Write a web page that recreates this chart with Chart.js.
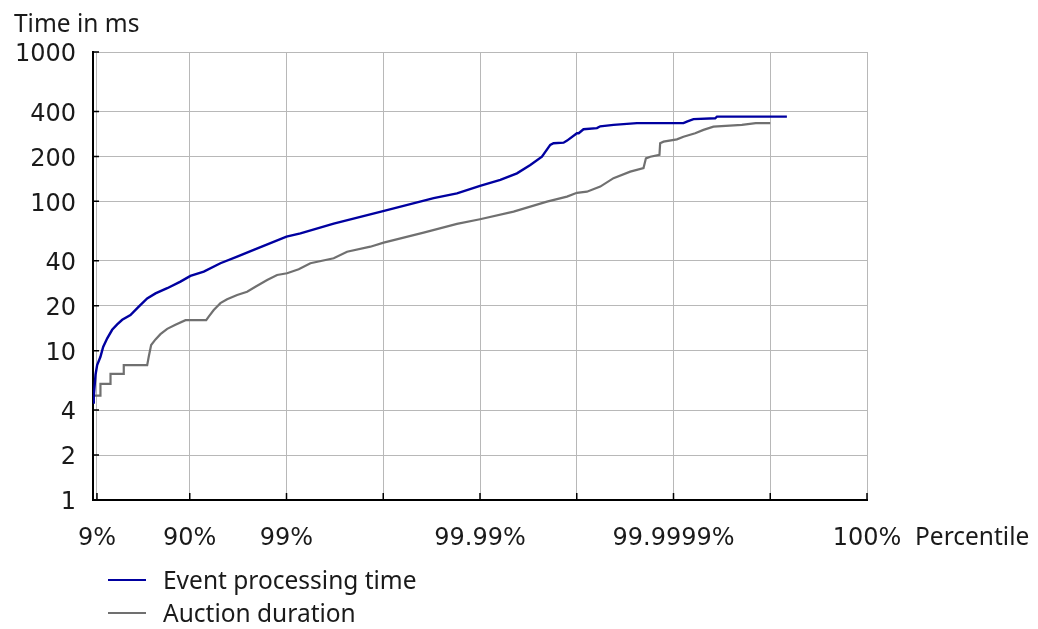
<!DOCTYPE html>
<html>
<head>
<meta charset="utf-8">
<title>Percentile chart</title>
<script src="https://cdn.jsdelivr.net/npm/chart.js@4.4.1/dist/chart.umd.min.js"></script>
<style>
  html, body { margin: 0; padding: 0; background: #fff; }
  #wrap { position: relative; width: 1038px; height: 629px; font-family: 'Noto Sans', sans-serif; color: #1a1a1a; }
  #chart { position: absolute; left: 0; top: 0; }
  .xtitle { position: absolute; left: 915px; top: 520px; font-size: 24.5px; line-height: 32px; }
  .legend { position: absolute; left: 108px; top: 563px; font-size: 24.5px; line-height: 33px; }
  .legend .item { display: flex; align-items: center; height: 33px; }
  .legend .swatch { display: inline-block; width: 38px; height: 2px; margin-right: 17px; }
</style>
</head>
<body>
<div id="wrap">
  <canvas id="chart" width="1038" height="629"></canvas>
  <div class="xtitle">Percentile</div>
  <div class="legend">
    <div class="item"><span class="swatch" style="background:#0000a0"></span>Event processing time</div>
    <div class="item"><span class="swatch" style="background:#707070"></span>Auction duration</div>
  </div>
</div>
<script>
// x is given in "nines": 1 = 90%, 2 = 99%, 3 = 99.9% ...
const xTickValues = [0.041, 1, 2, 3, 4, 5, 6, 7, 8];
const xTickLabels = ['9%', '90%', '99%', '', '99.99%', '', '99.9999%', '', '100%'];
const yTickValues = [1, 2, 4, 10, 20, 40, 100, 200, 400, 1000];

// Event processing time (ms)
const eventX = [0, 0.008, 0.026, 0.043, 0.077, 0.105, 0.147, 0.198, 0.25, 0.302, 0.387, 0.473, 0.56, 0.646, 0.767, 0.904, 1.007, 1.145, 1.317, 1.49, 1.661, 2.0, 2.144, 2.488, 2.998, 3.521, 3.762, 4.0, 4.21, 4.382, 4.52, 4.64, 4.726, 4.76, 4.864, 4.9, 5.002, 5.02, 5.07, 5.209, 5.243, 5.38, 5.622, 6.103, 6.138, 6.207, 6.431, 6.449, 7.172];
const eventY = [4.5, 4.9, 6.9, 8.0, 9.1, 10.6, 12.1, 13.8, 15, 16.1, 17.3, 19.7, 22.4, 24.2, 26.2, 29, 31.7, 33.8, 38.5, 42.6, 47.3, 58, 61, 71, 86, 105, 113, 127, 139, 154, 175, 199, 239, 245, 247, 255, 286, 286, 304, 309, 318, 325, 334, 334, 342, 355, 360, 369, 369];

// Auction duration (ms)
const auctionX = [0, 0.077, 0.077, 0.181, 0.181, 0.318, 0.318, 0.56, 0.576, 0.601, 0.646, 0.697, 0.767, 0.852, 0.956, 1.17, 1.196, 1.248, 1.317, 1.386, 1.49, 1.593, 1.679, 1.8, 1.903, 2.006, 2.126, 2.247, 2.488, 2.626, 2.867, 3.004, 3.417, 3.762, 4.0, 4.347, 4.692, 4.899, 5.002, 5.105, 5.243, 5.38, 5.553, 5.69, 5.715, 5.76, 5.855, 5.862, 5.897, 6.035, 6.103, 6.224, 6.31, 6.413, 6.707, 6.85, 7.0];
const auctionY = [5, 5, 6, 6, 7, 7, 8, 8, 9.1, 10.9, 11.9, 12.9, 14, 14.9, 16, 16, 16.9, 18.7, 20.8, 22.1, 23.6, 24.8, 26.8, 29.7, 32.1, 33, 35.1, 38.5, 41.6, 46, 49.7, 52.9, 61.7, 70.6, 75.9, 85.3, 99.5, 107.6, 114, 116, 125.5, 143, 158, 167, 194, 199, 205, 245, 251, 260, 271, 286, 301, 316, 325, 334, 334];

const textColor = '#1a1a1a';
const textFont = { family: "'Noto Sans', sans-serif", size: 24.5, weight: 'normal' };
const tickFont = { family: "'DejaVu Sans', sans-serif", size: 24, weight: 'normal' };

// small tick marks pointing into the plot
const innerTicks = {
  id: 'innerTicks',
  afterDraw(chart) {
    const { ctx, chartArea, scales } = chart;
    ctx.save();
    ctx.strokeStyle = '#000';
    ctx.lineWidth = 1.5;
    ctx.beginPath();
    scales.y.ticks.forEach(t => {
      const y = scales.y.getPixelForValue(t.value);
      ctx.moveTo(chartArea.left, y);
      ctx.lineTo(chartArea.left + 6, y);
    });
    scales.x.ticks.forEach(t => {
      const x = scales.x.getPixelForValue(t.value);
      ctx.moveTo(x, chartArea.bottom);
      ctx.lineTo(x, chartArea.bottom - 7);
    });
    ctx.stroke();
    ctx.restore();
  }
};

const ctx = document.getElementById('chart').getContext('2d');
const chart = new Chart(ctx, {
  type: 'line',
  data: {
    datasets: [{
      label: 'Event processing time',
      data: eventX.map((x, i) => ({ x: x, y: eventY[i] })),
      borderColor: '#0000a0',
      borderWidth: 2.4,
      pointRadius: 0,
      tension: 0,
      fill: false
    }, {
      label: 'Auction duration',
      data: auctionX.map((x, i) => ({ x: x, y: auctionY[i] })),
      borderColor: '#707070',
      borderWidth: 2.2,
      pointRadius: 0,
      tension: 0,
      fill: false
    }]
  },
  options: {
    responsive: false,
    animation: false,
    layout: { padding: { left: 14, right: 171, top: 0, bottom: 0 } },
    plugins: {
      legend: { display: false },
      tooltip: { enabled: false },
      title: {
        display: true,
        text: 'Time in ms',
        align: 'start',
        color: textColor,
        font: textFont,
        padding: { top: 10, bottom: 12.6 }
      }
    },
    scales: {
      x: {
        type: 'linear',
        min: 0,
        max: 8,
        afterBuildTicks: s => { s.ticks = xTickValues.map(v => ({ value: v })); },
        afterFit: s => { s.height = 129; },
        ticks: {
          autoSkip: false,
          maxRotation: 0,
          padding: 24,
          color: textColor,
          font: tickFont,
          callback: (v, i) => xTickLabels[i]
        },
        grid: { color: '#b8b8b8', lineWidth: 1, drawTicks: false },
        border: { color: '#000', width: 2 }
      },
      y: {
        type: 'logarithmic',
        min: 1,
        max: 1000,
        afterBuildTicks: s => { s.ticks = yTickValues.map(v => ({ value: v })); },
        afterFit: s => { s.width = 79; },
        ticks: {
          autoSkip: false,
          padding: 17,
          labelOffset: 3,
          color: textColor,
          font: tickFont,
          callback: v => String(v)
        },
        grid: { color: '#b8b8b8', lineWidth: 1, drawTicks: false },
        border: { color: '#000', width: 2 }
      }
    }
  },
  plugins: [innerTicks]
});
</script>
</body>
</html>
